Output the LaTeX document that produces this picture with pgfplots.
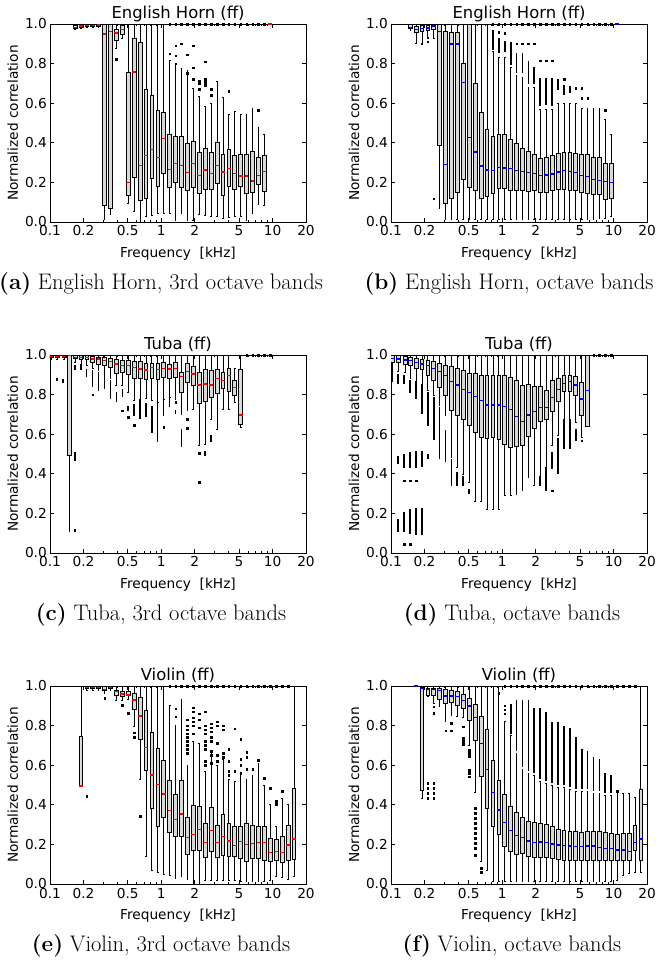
\documentclass[border=0pt]{standalone}
\usepackage{pgfplots}
\pgfplotsset{compat=1.18}
\usepackage{pgfplotstable}
\usepgfplotslibrary{statistics}
\usepackage{fontspec}
\newfontfamily\plotfont{DejaVu Sans}

% ---------- box statistics: f [kHz], lower whisker, Q1, median, Q3, upper whisker
\pgfplotstableread{
f lw q1 med q3 uw
0.1675 0.975 0.978 0.983 0.995 1
0.1893 0.980 0.985 0.990 0.998 1
0.2140 0.982 0.987 0.992 0.998 1
0.2418 0.982 0.987 0.993 0.999 1
0.2733 0.985 0.990 0.995 1.0 1
0.3090 0.012 0.084 0.949 1.0 1
0.3493 0.037 0.067 0.963 1.0 1
0.3949 0.879 0.916 0.955 0.975 1
0.4463 0.926 0.949 0.971 0.993 1
0.5045 0.094 0.135 0.199 0.758 1
0.5702 0.054 0.227 0.758 0.929 1
0.6445 0.0 0.108 0.285 0.907 1
0.7285 0.030 0.121 0.337 0.668 1
0.8235 0.034 0.219 0.367 0.640 1
0.9309 0.044 0.182 0.327 0.566 1
1.0522 0.044 0.246 0.421 0.552 1
1.1893 0.044 0.175 0.266 0.441 0.815
1.3447 0.010 0.200 0.296 0.434 0.800
1.5197 0.044 0.177 0.285 0.433 0.776
1.7179 0.010 0.160 0.249 0.396 0.764
1.9419 0.010 0.177 0.296 0.407 0.673
2.1950 0.037 0.143 0.236 0.352 0.635
2.4812 0.034 0.163 0.263 0.374 0.583
2.8047 0.027 0.163 0.246 0.352 0.600
3.1696 0.030 0.194 0.285 0.401 0.710
3.5826 0.020 0.135 0.253 0.342 0.627
4.0497 0.024 0.180 0.271 0.365 0.542
4.5777 0.030 0.163 0.246 0.338 0.557
5.1746 0.027 0.180 0.232 0.342 0.542
5.8479 0.010 0.146 0.232 0.343 0.545
6.6097 0.044 0.150 0.207 0.357 0.576
7.4713 0.088 0.188 0.234 0.327 0.480
8.4450 0.082 0.157 0.254 0.335 0.440
9.5459 1 1 1 1 1
}\boxA
\pgfplotstableread{
f v
0.3949 0.823
1.1893 0.85
1.3447 0.89
1.3447 0.84
1.3447 0.80
1.5197 0.90
1.7179 0.845
1.7179 0.75
1.9419 0.89
1.9419 0.78
1.9419 0.72
2.1950 0.71
2.1950 0.70
2.1950 0.67
2.4812 0.81
2.4812 0.72
2.4812 0.71
2.4812 0.70
2.4812 0.69
2.8047 0.67
2.8047 0.64
4.0497 0.66
7.4713 0.565
1.1893 1
1.3447 1
1.5197 1
1.7179 1
1.9419 1
2.1950 1
2.4812 1
2.8047 1
3.1696 1
3.5826 1
4.0497 1
4.5777 1
5.1746 1
5.8479 1
6.6097 1
7.4713 1
8.4450 1
}\outA

\pgfplotstableread{
f lw q1 med q3 uw
0.1482 0.970 0.976 0.980 0.997 1
0.1675 0.904 0.960 0.971 0.988 1
0.1893 0.904 0.963 0.976 0.993 1
0.2140 0.930 0.970 0.980 0.993 1
0.2418 0.926 0.971 0.990 0.997 1
0.2733 0.067 0.387 0.963 0.997 1
0.3090 0.012 0.096 0.290 0.963 1
0.3493 0.012 0.121 0.899 0.960 1
0.3949 0.012 0.152 0.899 0.960 1
0.4463 0.012 0.214 0.704 0.800 1
0.5045 0.012 0.177 0.428 0.997 1
0.5702 0.012 0.160 0.354 0.702 1
0.6445 0.012 0.121 0.283 0.552 1
0.7285 0.012 0.130 0.263 0.470 1
0.8235 0.012 0.143 0.261 0.433 0.86
0.9309 0.012 0.168 0.274 0.444 0.832
1.0522 0.012 0.168 0.273 0.441 0.83
1.1893 0.012 0.160 0.271 0.419 0.78
1.3447 0.012 0.158 0.259 0.397 0.74
1.5197 0.012 0.158 0.254 0.374 0.73
1.7179 0.012 0.155 0.249 0.357 0.68
1.9419 0.012 0.158 0.246 0.343 0.68
2.1950 0.012 0.152 0.236 0.323 0.57
2.4812 0.012 0.152 0.237 0.327 0.57
2.8047 0.012 0.160 0.242 0.337 0.57
3.1696 0.012 0.163 0.253 0.345 0.60
3.5826 0.012 0.163 0.259 0.354 0.60
4.0497 0.012 0.158 0.256 0.352 0.60
4.5777 0.012 0.158 0.251 0.348 0.60
5.1746 0.012 0.152 0.234 0.340 0.575
5.8479 0.012 0.146 0.231 0.340 0.575
6.6097 0.012 0.138 0.214 0.327 0.575
7.4713 0.020 0.138 0.210 0.327 0.575
8.4450 0.020 0.113 0.204 0.295 0.52
9.5459 0.029 0.121 0.200 0.295 0.44
10.790 1 1 1 1 1
}\boxB
\pgfplotstableread{
f v
0.1893 0.90
0.2140 0.93
0.2140 0.91
0.2418 0.118
0.9309 0.96
1.0522 0.955
1.3447 0.90
1.5197 0.90
1.7179 0.90
1.9419 0.90
2.1950 0.815
2.4812 0.815
2.8047 0.815
3.5826 0.72
4.5777 0.677
5.1746 0.677
5.1746 0.626
5.8479 0.626
8.4450 0.565
0.8235 1
0.9309 1
1.0522 1
1.1893 1
1.3447 1
1.5197 1
1.7179 1
1.9419 1
2.1950 1
2.4812 1
2.8047 1
3.1696 1
3.5826 1
4.0497 1
4.5777 1
5.1746 1
5.8479 1
6.6097 1
7.4713 1
8.4450 1
9.5459 1
}\outB
\pgfplotstableread{
f lo hi
0.8235 0.87 0.97
0.9309 0.855 0.93
1.0522 0.86 0.915
1.1893 0.795 0.91
1.3447 0.75 0.855
1.5197 0.75 0.855
1.7179 0.695 0.815
1.9419 0.695 0.785
2.1950 0.585 0.725
2.4812 0.59 0.725
2.8047 0.585 0.725
3.1696 0.668 0.72
3.5826 0.643 0.694
4.0497 0.652 0.685
}\rngB

\pgfplotstableread{
f lw q1 med q3 uw
0.1026 0.976 0.988 0.993 1.0 1
0.1160 0.976 0.988 0.993 1.0 1
0.1311 0.976 0.988 0.993 1.0 1
0.1482 0.108 0.495 0.997 1.0 1
0.1675 0.963 0.983 0.988 0.997 1
0.1893 0.955 0.976 0.988 0.997 1
0.2140 0.946 0.976 0.988 0.997 1
0.2418 0.933 0.963 0.980 0.993 1
0.2733 0.921 0.955 0.980 0.988 1
0.3090 0.904 0.949 0.971 0.988 1
0.3493 0.882 0.938 0.966 0.983 1
0.3949 0.845 0.909 0.955 0.980 1
0.4463 0.845 0.912 0.946 0.971 1
0.5045 0.811 0.904 0.946 0.971 1
0.5702 0.769 0.882 0.938 0.966 1
0.6445 0.778 0.882 0.929 0.966 1
0.7285 0.781 0.875 0.924 0.960 1
0.8235 0.769 0.882 0.938 0.960 1
0.9309 0.761 0.875 0.926 0.960 1
1.0522 0.778 0.887 0.933 0.963 1
1.1893 0.786 0.882 0.929 0.955 1
1.3447 0.778 0.887 0.933 0.963 1
1.5197 0.702 0.811 0.892 0.912 1
1.7179 0.719 0.862 0.916 0.960 1
1.9419 0.724 0.845 0.904 0.943 1
2.1950 0.545 0.758 0.849 0.912 1
2.4812 0.550 0.764 0.854 0.929 1
2.8047 0.677 0.786 0.849 0.921 1
3.1696 0.623 0.806 0.882 0.929 1
3.5826 0.727 0.832 0.870 0.912 1
4.0497 0.727 0.815 0.896 0.933 1
4.5777 0.761 0.798 0.837 0.870 0.93
5.1746 0.635 0.652 0.697 0.926 1
}\boxC
\pgfplotstableread{
f v
0.2418 0.80
0.4463 0.719
0.5045 0.685
0.5702 0.646
1.0522 0.635
1.3447 0.761
1.7179 0.677
1.7179 0.63
2.1950 0.503
2.1950 0.357
5.8479 1
6.6097 1
7.4713 1
8.4450 1
9.5459 1
}\outC
\pgfplotstableread{
f lo hi
0.1160 0.867 0.882
0.1311 0.857 0.88
0.1675 0.926 0.95
0.1675 0.466 0.508
0.1675 0.108 0.12
0.1893 0.926 0.955
0.2140 0.887 0.93
0.2418 0.84 0.926
0.2733 0.82 0.916
0.3090 0.83 0.90
0.3493 0.78 0.875
0.3949 0.761 0.815
0.4463 0.786 0.83
0.5045 0.719 0.744
0.5702 0.694 0.75
0.6445 0.677 0.774
0.7285 0.685 0.758
0.8235 0.606 0.744
0.9309 0.56 0.761
1.0522 0.69 0.786
1.1893 0.736 0.786
1.3447 0.70 0.72
1.5197 0.534 0.626
2.4812 0.49 0.517
2.8047 0.562 0.596
}\rngC

\pgfplotstableread{
f lw q1 med q3 uw
0.1026 0.943 0.963 0.983 1.0 1
0.1160 0.916 0.963 0.980 0.997 1
0.1311 0.912 0.955 0.975 0.993 1
0.1482 0.882 0.946 0.971 0.988 1
0.1675 0.865 0.933 0.963 0.983 1
0.1893 0.854 0.926 0.955 0.980 1
0.2140 0.820 0.899 0.946 0.971 1
0.2418 0.795 0.870 0.933 0.966 1
0.2733 0.747 0.837 0.916 0.960 1
0.3090 0.694 0.795 0.896 0.946 1
0.3493 0.483 0.719 0.865 0.943 1
0.3949 0.433 0.694 0.849 0.933 1
0.4463 0.399 0.677 0.825 0.921 1
0.5045 0.357 0.646 0.811 0.909 1
0.5702 0.259 0.609 0.791 0.909 1
0.6445 0.259 0.584 0.769 0.896 1
0.7285 0.222 0.579 0.747 0.896 1
0.8235 0.222 0.584 0.747 0.896 1
0.9309 0.222 0.576 0.747 0.899 1
1.0522 0.293 0.550 0.741 0.896 1
1.1893 0.290 0.534 0.724 0.887 1
1.3447 0.298 0.539 0.689 0.870 1
1.5197 0.315 0.545 0.663 0.849 1
1.7179 0.382 0.589 0.697 0.854 1
1.9419 0.343 0.630 0.714 0.842 1
2.1950 0.360 0.663 0.736 0.842 1
2.4812 0.365 0.673 0.736 0.820 1
2.8047 0.542 0.714 0.786 0.870 1
3.1696 0.593 0.764 0.825 0.882 1
3.5826 0.668 0.815 0.857 0.896 1
4.0497 0.677 0.815 0.865 0.899 1
4.5777 0.660 0.795 0.849 0.892 1
5.1746 0.584 0.694 0.778 0.862 1
5.8479 0.640 0.640 0.820 1.0 1
}\boxD
\pgfplotstableread{
f v
0.1311 0.365
0.1482 0.365
0.1675 0.365
0.1311 0.045
0.1482 0.045
2.8047 0.315
5.1746 0.567
6.6097 1
7.4713 1
8.4450 1
9.5459 1
}\outD
\pgfplotstableread{
f lo hi
0.1026 0.862 0.938
0.1160 0.854 0.904
0.1160 0.45 0.49
0.1160 0.108 0.172
0.1311 0.854 0.90
0.1311 0.428 0.50
0.1311 0.104 0.205
0.1482 0.81 0.875
0.1482 0.43 0.508
0.1482 0.096 0.222
0.1675 0.778 0.862
0.1675 0.43 0.517
0.1675 0.09 0.225
0.1893 0.702 0.85
0.1893 0.433 0.517
0.1893 0.09 0.225
0.2140 0.643 0.815
0.2140 0.475 0.50
0.2418 0.572 0.786
0.2733 0.475 0.736
0.3090 0.46 0.62
0.3493 0.34 0.475
0.3949 0.34 0.407
0.4463 0.34 0.39
0.5045 0.30 0.323
2.1950 0.34 0.39
2.4812 0.315 0.433
2.8047 0.424 0.508
3.1696 0.40 0.58
3.5826 0.525 0.677
4.0497 0.525 0.677
4.5777 0.567 0.626
}\rngD

\pgfplotstableread{
f lw q1 med q3 uw
0.1893 0.495 0.495 0.495 0.747 1
0.2140 0.976 0.988 0.993 1.0 1
0.2418 0.976 0.988 0.993 1.0 1
0.2733 0.976 0.988 0.993 1.0 1
0.3090 0.963 0.980 0.983 1.0 1
0.3493 0.976 0.988 0.993 1.0 1
0.3949 0.926 0.955 0.971 0.980 1
0.4463 0.926 0.949 0.960 0.971 1
0.5045 0.930 0.955 0.955 0.971 1
0.5702 0.798 0.882 0.929 0.963 1
0.6445 0.529 0.731 0.849 0.943 1
0.7285 0.141 0.572 0.690 0.879 1
0.8235 0.067 0.382 0.551 0.764 1
0.9309 0.057 0.293 0.503 0.685 1
1.0522 0.050 0.337 0.455 0.623 1
1.1893 0.045 0.259 0.370 0.522 0.90
1.3447 0.029 0.239 0.327 0.453 0.80
1.5197 0.040 0.239 0.354 0.522 0.93
1.7179 0.024 0.152 0.234 0.337 0.60
1.9419 0.0 0.168 0.251 0.399 0.72
2.1950 0.0 0.172 0.276 0.390 0.71
2.4812 0.020 0.135 0.209 0.306 0.57
2.8047 0.020 0.163 0.269 0.386 0.67
3.1696 0.020 0.135 0.209 0.298 0.60
3.5826 0.017 0.143 0.241 0.352 0.63
4.0497 0.017 0.138 0.217 0.306 0.53
4.5777 0.017 0.138 0.194 0.290 0.52
5.1746 0.012 0.130 0.214 0.290 0.56
5.8479 0.012 0.113 0.200 0.306 0.53
6.6097 0.012 0.130 0.205 0.298 0.55
7.4713 0.012 0.130 0.209 0.290 0.61
8.4450 0.012 0.121 0.209 0.290 0.50
9.5459 0.020 0.113 0.158 0.231 0.40
10.790 0.040 0.121 0.163 0.226 0.29
12.196 0.034 0.108 0.160 0.242 0.43
13.786 0.025 0.121 0.197 0.295 0.40
15.583 0.040 0.125 0.227 0.483 1
}\boxE
\pgfplotstableread{
f v
0.2140 0.444
0.3090 0.938
0.4463 0.904
0.5045 0.862
0.5702 0.764
0.5702 0.741
0.6445 0.343
1.3447 0.885
1.3447 0.845
1.7179 0.83
1.7179 0.80
1.7179 0.78
1.7179 0.76
1.7179 0.74
1.7179 0.72
1.7179 0.70
1.7179 0.68
1.7179 0.66
1.9419 0.89
1.9419 0.87
1.9419 0.84
1.9419 0.82
1.9419 0.80
1.9419 0.76
2.1950 0.86
2.1950 0.83
2.1950 0.79
2.4812 0.87
2.4812 0.80
2.4812 0.78
2.4812 0.76
2.4812 0.72
2.4812 0.70
2.4812 0.68
2.4812 0.62
2.4812 0.60
2.8047 0.81
2.8047 0.79
2.8047 0.77
2.8047 0.74
2.8047 0.72
2.8047 0.67
2.8047 0.65
2.8047 0.61
3.1696 0.82
3.1696 0.80
3.1696 0.71
3.1696 0.65
3.1696 0.62
3.5826 0.80
3.5826 0.78
3.5826 0.66
3.5826 0.64
4.0497 0.68
4.0497 0.62
4.0497 0.57
4.0497 0.55
4.5777 0.785
4.5777 0.57
5.1746 0.73
5.1746 0.63
5.1746 0.60
5.1746 0.56
5.8479 0.665
5.8479 0.64
5.8479 0.58
6.6097 0.58
7.4713 0.625
8.4450 0.535
9.5459 0.485
10.790 0.42
10.790 0.41
10.790 0.40
12.196 0.47
1.1893 1
1.3447 1
1.5197 1
1.7179 1
1.9419 1
2.1950 1
2.4812 1
2.8047 1
3.1696 1
3.5826 1
4.0497 1
4.5777 1
5.1746 1
5.8479 1
6.6097 1
7.4713 1
8.4450 1
9.5459 1
10.790 1
12.196 1
13.786 1
}\outE

\pgfplotstableread{
f lw q1 med q3 uw
0.1675 1 1 1 1 1
0.1893 0.433 0.471 0.988 0.993 1
0.2140 0.949 0.955 0.983 0.988 1
0.2418 0.912 0.955 0.983 0.988 1
0.2733 0.896 0.933 0.976 0.988 1
0.3090 0.820 0.912 0.949 0.983 1
0.3493 0.854 0.916 0.949 0.976 1
0.3949 0.849 0.904 0.946 0.971 1
0.4463 0.842 0.887 0.926 0.960 1
0.5045 0.702 0.825 0.899 0.938 1
0.5702 0.461 0.724 0.842 0.909 1
0.6445 0.113 0.542 0.710 0.845 1
0.7285 0.067 0.382 0.579 0.781 1
0.8235 0.012 0.293 0.461 0.623 1
0.9309 0.012 0.253 0.374 0.525 1
1.0522 0.012 0.192 0.310 0.455 0.82
1.1893 0.012 0.163 0.269 0.391 0.75
1.3447 0.012 0.152 0.246 0.360 0.66
1.5197 0.012 0.155 0.236 0.337 0.58
1.7179 0.012 0.138 0.217 0.315 0.56
1.9419 0.012 0.135 0.209 0.310 0.55
2.1950 0.012 0.135 0.212 0.306 0.52
2.4812 0.012 0.135 0.209 0.303 0.51
2.8047 0.012 0.130 0.202 0.290 0.50
3.1696 0.012 0.125 0.197 0.278 0.49
3.5826 0.012 0.121 0.195 0.269 0.49
4.0497 0.012 0.121 0.192 0.264 0.48
4.5777 0.012 0.118 0.189 0.264 0.47
5.1746 0.012 0.118 0.189 0.263 0.47
5.8479 0.012 0.118 0.192 0.264 0.47
6.6097 0.012 0.118 0.192 0.264 0.46
7.4713 0.012 0.118 0.185 0.264 0.46
8.4450 0.012 0.118 0.180 0.259 0.45
9.5459 0.012 0.118 0.180 0.256 0.45
10.790 0.020 0.121 0.172 0.253 0.47
12.196 0.045 0.121 0.172 0.256 0.46
13.786 0.054 0.121 0.163 0.256 0.46
15.583 0.057 0.172 0.209 0.298 0.44
17.614 0.057 0.121 0.227 0.480 1
}\boxF
\pgfplotstableread{
f v
0.2140 0.508
0.2140 0.483
0.2140 0.458
0.2140 0.433
0.2418 0.508
0.2418 0.483
0.2418 0.458
0.2418 0.433
0.2418 0.896
0.2418 0.862
0.3090 0.774
0.3493 0.811
0.3493 0.774
0.4463 0.795
0.4463 0.736
0.4463 0.720
0.4463 0.707
0.5045 0.677
0.5045 0.660
0.5045 0.645
0.5045 0.576
0.5045 0.560
0.5045 0.542
0.5702 0.382
0.5702 0.357
0.5702 0.332
0.5702 0.307
0.5702 0.282
0.5702 0.257
0.5702 0.232
0.5702 0.207
0.5702 0.182
0.5702 0.146
0.6445 0.080
0.6445 0.060
0.9309 0.963
1.0522 0.90
1.0522 0.88
1.0522 0.86
10.790 0.47
1.0522 1
1.1893 1
1.3447 1
1.5197 1
1.7179 1
1.9419 1
2.1950 1
2.4812 1
2.8047 1
3.1696 1
3.5826 1
4.0497 1
4.5777 1
5.1746 1
5.8479 1
6.6097 1
7.4713 1
8.4450 1
9.5459 1
10.790 1
12.196 1
13.786 1
15.583 1
}\outF
\pgfplotstableread{
f lo hi
1.1893 0.76 0.91
1.3447 0.67 0.93
1.5197 0.59 0.93
1.7179 0.57 0.93
1.9419 0.56 0.89
2.1950 0.53 0.89
2.4812 0.52 0.87
2.8047 0.51 0.82
3.1696 0.50 0.82
3.5826 0.50 0.80
4.0497 0.49 0.79
4.5777 0.48 0.74
5.1746 0.48 0.68
5.8479 0.48 0.67
6.6097 0.47 0.64
7.4713 0.47 0.63
8.4450 0.46 0.56
9.5459 0.46 0.55
}\rngF

% ---------- one box per table row, placed at log10(f)
\newcommand\drawboxes[2]{%
  \pgfplotstablegetrowsof{#1}%
  \pgfmathtruncatemacro\lastrow{\pgfplotsretval-1}%
  \pgfplotsforeachungrouped \rowi in {0,...,\lastrow}{%
    \pgfplotstablegetelem{\rowi}{f}\of#1%
    \pgfmathsetmacro\bpos{log10(\pgfplotsretval)}%
    \pgfplotstablegetelem{\rowi}{lw}\of#1\let\blw\pgfplotsretval
    \pgfplotstablegetelem{\rowi}{q1}\of#1\let\bqa\pgfplotsretval
    \pgfplotstablegetelem{\rowi}{med}\of#1\let\bmed\pgfplotsretval
    \pgfplotstablegetelem{\rowi}{q3}\of#1\let\bqb\pgfplotsretval
    \pgfplotstablegetelem{\rowi}{uw}\of#1\let\buw\pgfplotsretval
    \edef\doplot{\noexpand\addplot[bx, boxplot/every median/.style={draw=#2, line width=1.3pt},
      boxplot prepared={draw position=\bpos, lower whisker=\blw, lower quartile=\bqa,
      median=\bmed, upper quartile=\bqb, upper whisker=\buw}] coordinates {};}%
    \doplot
  }%
}
\newcommand\drawoutliers[1]{%
  \addplot[only marks, mark=square*, mark size=0.8pt, black]
    table[x expr={log10(\thisrow{f})}, y=v] {#1};}
% dense runs of outliers, drawn as one solid stroke from lo to hi
\newcommand\drawclusters[2][]{%
  \addplot[draw=none, mark=none, error bars/.cd, y dir=plus, y explicit, error mark=none,
    error bar style={draw=black, solid, line width=1.8pt, #1}]
    table[x expr={log10(\thisrow{f})}, y=lo, y error expr={\thisrow{hi}-\thisrow{lo}}] {#2};}

\pgfplotsset{
  bx/.style={black, line width=0.75pt, boxplot/draw direction=y,
    boxplot/box extend=0.034, boxplot/whisker extend=0.016,
    boxplot/every box/.style={draw=black, fill=black!15},
    boxplot/every whisker/.style={draw=black}},
  panel/.style={
    scale only axis, width=256pt, height=198pt,
    xmin=-1, xmax=1.30103, ymin=0, ymax=1,
    xtick={-1,-0.69897,-0.30103,0,0.30103,0.69897,1,1.30103},
    xticklabels={0.1,0.2,0.5,1,2,5,10,20},
    minor xtick={-0.52288,-0.39794,-0.22185,-0.15490,-0.09691,-0.04576,
                 0.47712,0.60206,0.77815,0.84510,0.90309,0.95424},
    ytick={0,0.2,0.4,0.6,0.8,1}, yticklabels={0.0,0.2,0.4,0.6,0.8,1.0},
    tick align=inside, major tick length=4pt, minor tick length=2pt,
    every tick/.style={black, line width=0.6pt},
    axis line style={line width=0.8pt},
    /pgf/number format/assume math mode=true,
    ticklabel style={font=\plotfont\fontsize{13.7}{16}\selectfont},
    xticklabel style={anchor=base, yshift=-14pt},
    yticklabel style={anchor=east, inner sep=0pt, xshift=-3pt},
    xlabel={Frequency\ \ [kHz]}, ylabel={Normalized correlation},
    label style={font=\plotfont\fontsize{13.7}{16}\selectfont},
    xlabel style={at={(0.5,-0.1768)}, anchor=base},
    ylabel style={at={(-0.125,0.5)}, anchor=base},
    every axis title shift=0pt,
    title style={at={(0.5,1.029)}, anchor=base, font=\plotfont\fontsize{16.4}{19}\selectfont},
  },
}

\begin{document}
\begin{tikzpicture}[x=1pt, y=1pt]
\path[use as bounding box] (0pt,0pt) rectangle (656pt,962pt);

% (a) English Horn, third-octave bands
\begin{axis}[panel, at={(50pt,740pt)}, anchor=south west, title={English Horn (ff)}]
  \drawoutliers{\outA}
  \drawboxes{\boxA}{red}
\end{axis}
% (b) English Horn, octave bands
\begin{axis}[panel, at={(391pt,740pt)}, anchor=south west, title={English Horn (ff)}]
  \drawclusters{\rngB}
  \drawoutliers{\outB}
  \drawboxes{\boxB}{blue}
\end{axis}
% (c) Tuba, third-octave bands
\begin{axis}[panel, at={(50pt,409pt)}, anchor=south west, title={Tuba (ff)}]
  \drawclusters[line width=1.4pt]{\rngC}
  \drawoutliers{\outC}
  \drawboxes{\boxC}{red}
\end{axis}
% (d) Tuba, octave bands
\begin{axis}[panel, at={(391pt,409pt)}, anchor=south west, title={Tuba (ff)}]
  \drawclusters{\rngD}
  \drawoutliers{\outD}
  \drawboxes{\boxD}{blue}
\end{axis}
% (e) Violin, third-octave bands
\begin{axis}[panel, at={(50pt,78pt)}, anchor=south west, title={Violin (ff)}]
  \drawoutliers{\outE}
  \drawboxes{\boxE}{red}
\end{axis}
% (f) Violin, octave bands
\begin{axis}[panel, at={(391pt,78pt)}, anchor=south west, title={Violin (ff)}]
  \drawclusters{\rngF}
  \drawoutliers{\outF}
  \drawboxes{\boxF}{blue}
\end{axis}

% sub-figure captions
\begin{scope}[every node/.style={anchor=base, font=\fontsize{22.5}{26}\selectfont}]
  \node at (161pt,672pt) {\textbf{(a)} English Horn, 3rd octave bands};
  \node at (509pt,672pt) {\textbf{(b)} English Horn, octave bands};
  \node at (161pt,341pt) {\textbf{(c)} Tuba, 3rd octave bands};
  \node at (512pt,341pt) {\textbf{(d)} Tuba, octave bands};
  \node at (161pt,10pt) {\textbf{(e)} Violin, 3rd octave bands};
  \node at (512pt,10pt) {\textbf{(f)} Violin, octave bands};
\end{scope}
\end{tikzpicture}
\end{document}
